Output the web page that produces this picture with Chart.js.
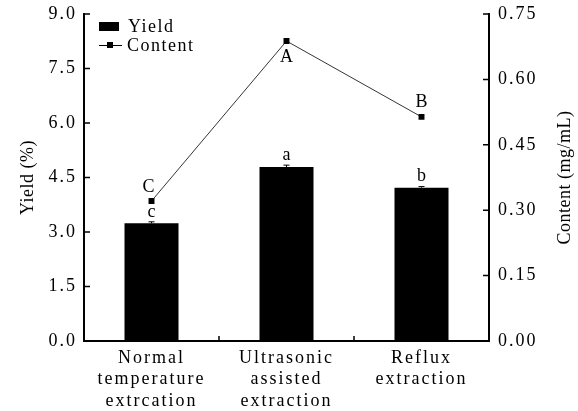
<!DOCTYPE html>
<html lang="en">
<head>
    <meta charset="UTF-8">
    <title>Yield and Content</title>
    <script src="https://cdn.jsdelivr.net/npm/chart.js"></script>
    <style>
        body { margin: 0; background: #fff; }
        #wrap { width: 578px; height: 411px; position: relative; }
    </style>
</head>
<body>
<div id="wrap"><canvas id="yieldChart"></canvas></div>
<script>
    // data
    const categories = [['Normal', 'temperature', 'extrcation'], ['Ultrasonic', 'assisted', 'extraction'], ['Reflux', 'extraction']];
    const yieldValues = [3.24, 4.79, 4.22];
    const yieldErrors = [0.04, 0.05, 0.03];
    const contentValues = [0.321, 0.688, 0.514];
    const yieldLetters = ['c', 'a', 'b'];
    const contentLetters = ['C', 'A', 'B'];
    const yieldTicks = [0, 1.5, 3.0, 4.5, 6.0, 7.5, 9.0];
    const contentTicks = [0, 0.15, 0.30, 0.45, 0.60, 0.75];

    const FONT = '"Liberation Serif", "Times New Roman", serif';
    Chart.defaults.font.family = FONT;
    Chart.defaults.color = '#000';

    // letter spaced serif text like the original
    const spacing = {
        id: 'spacing',
        beforeUpdate(chart) { chart.ctx.letterSpacing = '2px'; },
        beforeDraw(chart) { chart.ctx.letterSpacing = '2px'; }
    };

    // inward ticks, error bars, letters, legend, axis titles
    const extras = {
        id: 'extras',
        afterDraw(chart) {
            const ctx = chart.ctx;
            const x = chart.scales.x, yl = chart.scales.y, yr = chart.scales.y2;
            const area = chart.chartArea;
            ctx.save();
            ctx.strokeStyle = '#000';
            ctx.fillStyle = '#000';
            ctx.lineWidth = 1.5;
            ctx.beginPath();
            yieldTicks.forEach(v => {
                const py = yl.getPixelForValue(v);
                ctx.moveTo(area.left, py); ctx.lineTo(area.left + 6, py);
            });
            contentTicks.forEach(v => {
                const py = yr.getPixelForValue(v);
                ctx.moveTo(area.right, py); ctx.lineTo(area.right - 6, py);
            });
            for (let i = 0; i < categories.length - 1; i++) {
                const px = (x.getPixelForValue(i) + x.getPixelForValue(i + 1)) / 2;
                ctx.moveTo(px, area.bottom); ctx.lineTo(px, area.bottom - 5);
            }
            ctx.stroke();

            // error bars
            ctx.lineWidth = 1;
            ctx.beginPath();
            yieldValues.forEach((v, i) => {
                const px = x.getPixelForValue(i);
                const top = yl.getPixelForValue(v + yieldErrors[i]);
                ctx.moveTo(px, yl.getPixelForValue(v)); ctx.lineTo(px, top);
                ctx.moveTo(px - 3, top); ctx.lineTo(px + 3, top);
            });
            ctx.stroke();

            ctx.letterSpacing = '0px';
            ctx.font = '18px ' + FONT;
            ctx.textAlign = 'center';
            ctx.textBaseline = 'middle';
            yieldValues.forEach((v, i) => {
                ctx.fillText(yieldLetters[i], x.getPixelForValue(i), yl.getPixelForValue(v + yieldErrors[i]) - 10);
            });
            const meta = chart.getDatasetMeta(0);
            const offs = [[-3, -14], [0, 16], [0, -15]];
            meta.data.forEach((pt, i) => {
                ctx.fillText(contentLetters[i], pt.x + offs[i][0], pt.y + offs[i][1]);
            });

            // legend
            ctx.fillRect(99, 22, 20, 9);
            ctx.lineWidth = 1;
            ctx.beginPath();
            ctx.moveTo(99, 45.5); ctx.lineTo(122, 45.5);
            ctx.stroke();
            ctx.fillRect(107, 42, 6, 6);
            ctx.font = '18px ' + FONT;
            ctx.letterSpacing = '1.5px';
            ctx.textAlign = 'left';
            ctx.fillText('Yield', 128, 27);
            ctx.fillText('Content', 127, 46);

            // axis titles
            ctx.font = '18px ' + FONT;
            ctx.letterSpacing = '0.5px';
            ctx.textAlign = 'center';
            ctx.save();
            ctx.translate(28, (area.top + area.bottom) / 2);
            ctx.rotate(-Math.PI / 2);
            ctx.fillText('Yield (%)', 0, 0);
            ctx.restore();
            ctx.save();
            ctx.translate(565, (area.top + area.bottom) / 2);
            ctx.rotate(-Math.PI / 2);
            ctx.fillText('Content (mg/mL)', 0, 0);
            ctx.restore();
            ctx.restore();
        }
    };

    function fitY(width) {
        return s => {
            s.width = width;
            s.paddingTop = 0;
            s.paddingBottom = 0;
        };
    }

    function initChart() {
        new Chart(document.getElementById('yieldChart'), {
            data: {
                labels: categories,
                datasets: [{
                    type: 'line',
                    label: 'Content',
                    data: contentValues,
                    yAxisID: 'y2',
                    borderColor: '#000',
                    backgroundColor: '#000',
                    borderWidth: 0.8,
                    pointStyle: 'rect',
                    pointRadius: 4.2,
                    pointBorderWidth: 0,
                    tension: 0,
                    order: 0
                }, {
                    type: 'bar',
                    label: 'Yield',
                    data: yieldValues,
                    yAxisID: 'y',
                    backgroundColor: '#000',
                    barPercentage: 0.4,
                    categoryPercentage: 1.0,
                    order: 1
                }]
            },
            options: {
                responsive: true,
                maintainAspectRatio: false,
                animation: false,
                layout: { padding: { top: 14, left: 0, right: 0, bottom: 0 } },
                plugins: { legend: { display: false }, tooltip: { enabled: false } },
                scales: {
                    x: {
                        grid: { display: false, drawTicks: false },
                        border: { display: true, color: '#000', width: 2 },
                        ticks: { font: { size: 18 }, padding: 6, maxRotation: 0, autoSkip: false },
                        afterFit: s => { s.height = 70; s.paddingLeft = 0; s.paddingRight = 0; }
                    },
                    y: {
                        position: 'left',
                        min: 0, max: 9,
                        grid: { drawOnChartArea: false, drawTicks: false },
                        border: { display: true, color: '#000', width: 2 },
                        ticks: { stepSize: 1.5, font: { size: 18 }, padding: 7, callback: v => v.toFixed(1) },
                        afterFit: fitY(84)
                    },
                    y2: {
                        position: 'right',
                        min: 0, max: 0.75,
                        grid: { drawOnChartArea: false, drawTicks: false },
                        border: { display: true, color: '#000', width: 2 },
                        ticks: { stepSize: 0.15, font: { size: 18 }, padding: 9, callback: v => v.toFixed(2) },
                        afterFit: fitY(89)
                    }
                }
            },
            plugins: [spacing, extras]
        });
    }

    document.addEventListener('DOMContentLoaded', function() {
        initChart();
    });
</script>
</body>
</html>
